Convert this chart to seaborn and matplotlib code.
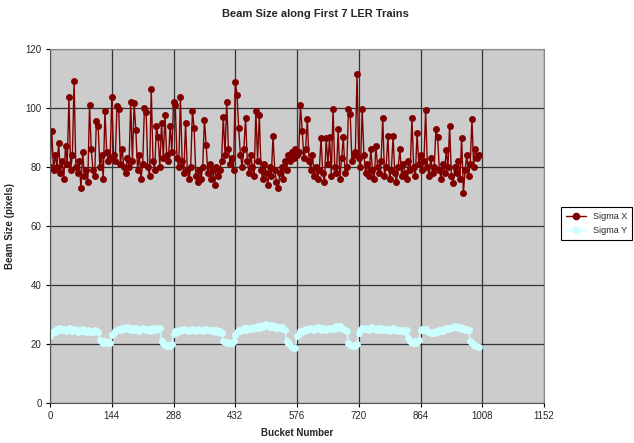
import pandas as pd
import matplotlib.pyplot as plt
import seaborn as sns

# bucket numbers, sampled every 4 buckets
buckets = list(range(0, 1001, 4))

# horizontal beam size (pixels), one row per train
sigma_x = [
    80, 92, 79, 84, 80, 88, 78, 82, 76, 87, 81, 103.5, 79, 84, 109, 80, 78, 82,
    73, 85, 77, 79, 75, 101, 86, 79, 77, 95.6, 94, 80, 84, 76, 99, 85, 82, 83,
    103.5, 84, 82, 100.5, 99.7, 81, 86, 80, 78, 83, 80, 102, 82, 101.5, 92.5, 79, 84, 76,
    81, 100, 98.5, 80, 77, 106.3, 82, 79, 94, 90, 80, 95, 83, 97.5, 84, 82, 94, 85,
    102, 101, 83, 80, 103.5, 82, 78, 95, 79, 76, 80, 99, 93, 77, 75, 79, 76, 80,
    96, 87.5, 78, 81, 76, 79, 74, 80, 77, 79, 82, 97, 84, 102, 86, 81, 83, 79,
    108.8, 104.5, 93, 84, 80, 86, 96.6, 82, 78, 84, 80, 77, 99, 82, 97.7, 79, 76, 81,
    78, 74, 80, 77, 90.6, 79, 75, 73, 78, 80, 76, 82, 79, 84, 82, 85, 83, 86,
    84, 85, 100.8, 92.3, 83, 86, 96.2, 82, 79, 84, 77, 80, 76, 79, 89.8, 78, 75, 89.8,
    81, 90, 77, 99.7, 80, 78, 92.8, 76, 83, 90, 78, 80, 99.7, 98, 82, 84, 85, 111.3,
    83, 80, 99.6, 84, 78, 81, 77, 86, 79, 76, 87, 80, 78, 82, 96.6, 77, 80, 90.6,
    76, 79, 90.3, 78, 75, 80, 86, 77, 81, 78, 76, 82, 79, 96.6, 80, 77, 91.3, 81,
    84, 79, 82, 99.2, 80, 77, 83, 78, 80, 92.8, 90, 79, 76, 81, 78, 85.6, 80, 94,
    77, 74.4, 80, 78, 82, 76, 89.8, 71, 79, 84, 77, 81, 96.2, 80, 86, 83, 84,
]

# vertical beam size (pixels)
sigma_y = [
    22.8, 23.7, 24.5, 24.2, 25.0, 24.6, 25.3, 24.8, 25.1, 24.4, 24.9, 25.5, 24.7, 24.3, 25.0, 24.6, 24.2, 24.8,
    24.5, 25.0, 24.3, 24.1, 24.6, 24.0, 24.4, 24.2, 24.7, 24.3, 24.0, 21.5, 20.8, 20.5, 20.9, 20.3, 20.6, 20.4,
    23.0, 23.8, 24.5, 24.8, 25.2, 24.6, 25.4, 25.0, 25.6, 25.8, 25.1, 24.7, 25.3, 24.9, 25.5, 24.8, 24.4, 25.0,
    25.6, 25.2, 24.7, 25.0, 24.5, 25.1, 25.4, 24.8, 25.6, 25.0, 25.3, 21.0, 20.2, 19.6, 19.3, 19.8, 19.4, 19.9,
    23.5, 24.3, 24.0, 24.6, 24.3, 24.8, 25.1, 24.6, 24.9, 24.4, 24.7, 25.2, 24.8, 24.5, 25.0, 24.6, 24.9, 24.3,
    24.8, 25.1, 24.6, 24.9, 24.3, 24.7, 24.2, 24.6, 24.0, 24.4, 23.9, 21.0, 20.6, 20.3, 20.8, 20.4, 20.5, 20.9,
    23.2, 24.0, 24.6, 24.3, 24.9, 25.3, 24.8, 25.4, 25.0, 25.6, 25.2, 25.8, 25.4, 26.0, 25.6, 26.2, 25.8, 26.3,
    26.7, 26.2, 25.9, 26.4, 25.8, 26.1, 25.5, 25.9, 25.3, 25.7, 25.0, 24.6, 21.2, 20.3, 19.6, 19.0, 18.6, 18.8,
    22.8, 23.5, 24.3, 24.0, 24.8, 25.2, 24.6, 25.0, 25.5, 25.1, 24.6, 25.3, 25.7, 25.2, 24.8, 25.4, 25.0, 24.6,
    25.1, 25.5, 25.0, 25.6, 25.2, 26.0, 25.5, 26.2, 25.6, 25.1, 24.7, 24.3, 20.5, 19.6, 19.3, 19.8, 19.4, 19.9,
    23.8, 24.8, 25.5, 25.0, 25.6, 25.2, 24.7, 25.3, 25.8, 25.2, 24.8, 25.4, 24.9, 25.3, 24.7, 25.2, 24.6, 25.0,
    24.4, 24.9, 25.3, 24.7, 25.1, 24.5, 24.9, 24.3, 24.8, 24.2, 24.6, 22.0, 21.0, 20.5, 20.9, 20.4, 20.7, 21.5,
    24.6, 25.2, 24.7, 25.0, 24.3, 24.0, 23.6, 24.1, 23.8, 24.4, 24.0, 24.6, 24.9, 24.5, 25.1, 25.4, 25.0, 25.6,
    25.3, 25.8, 26.1, 25.7, 25.4, 25.9, 25.2, 25.5, 24.9, 25.2, 24.6, 21.0, 20.2, 19.6, 19.2, 19.5, 19.0,
]

x_ticks = [0, 144, 288, 432, 576, 720, 864, 1008, 1152]
y_ticks = [0, 20, 40, 60, 80, 100, 120]

df = pd.DataFrame({
    "Bucket": buckets * 2,
    "Size": sigma_x + sigma_y,
    "Series": ["Sigma X"] * len(buckets) + ["Sigma Y"] * len(buckets),
})

sns.set_style("white", {"axes.facecolor": "#cccccc"})
plt.rcParams["font.family"] = ["Liberation Sans", "DejaVu Sans"]

fig = plt.figure(figsize=(6.34, 4.43), dpi=100)
ax = fig.add_axes([0.079, 0.090, 0.779, 0.800])

sns.lineplot(
    data=df, x="Bucket", y="Size", hue="Series",
    palette={"Sigma X": "#800000", "Sigma Y": "#ccffff"},
    marker="o", markersize=5, markeredgewidth=0, linewidth=1,
    ax=ax, legend=False,
)

ax.set_xlim(0, 1152)
ax.set_ylim(0, 120)
ax.set_xticks(x_ticks)
ax.set_yticks(y_ticks)
ax.grid(True, color="#333333", linewidth=0.9)
ax.set_axisbelow(True)
ax.tick_params(labelsize=7, length=3, width=0.8, direction="out", color="black",
               left=True, bottom=True, pad=3)
for side in ["top", "right"]:
    ax.spines[side].set_color("#888888")
    ax.spines[side].set_linewidth(0.8)
for side in ["left", "bottom"]:
    ax.spines[side].set_color("#555555")
    ax.spines[side].set_linewidth(0.8)

ax.set_xlabel("Bucket Number", fontsize=7, fontweight="bold", labelpad=5)
ax.set_ylabel("Beam Size (pixels)", fontsize=7, fontweight="bold", labelpad=8)
fig.suptitle("Beam Size along First 7 LER Trains", x=0.497, y=0.98,
             fontsize=8, fontweight="bold")

handles = [
    plt.Line2D([], [], color="#800000", marker="o", markersize=4.5, linewidth=1),
    plt.Line2D([], [], color="#ccffff", marker="o", markersize=4.5, linewidth=1),
]
leg = fig.legend(handles, ["Sigma X", "Sigma Y"], loc="center left",
                 bbox_to_anchor=(0.878, 0.495), fontsize=6.5, frameon=True,
                 fancybox=False, edgecolor="black", facecolor="white",
                 framealpha=1, handlelength=2.2, borderpad=0.5, labelspacing=0.6)
leg.get_frame().set_linewidth(0.8)

fig.savefig("out.png", dpi=100)
